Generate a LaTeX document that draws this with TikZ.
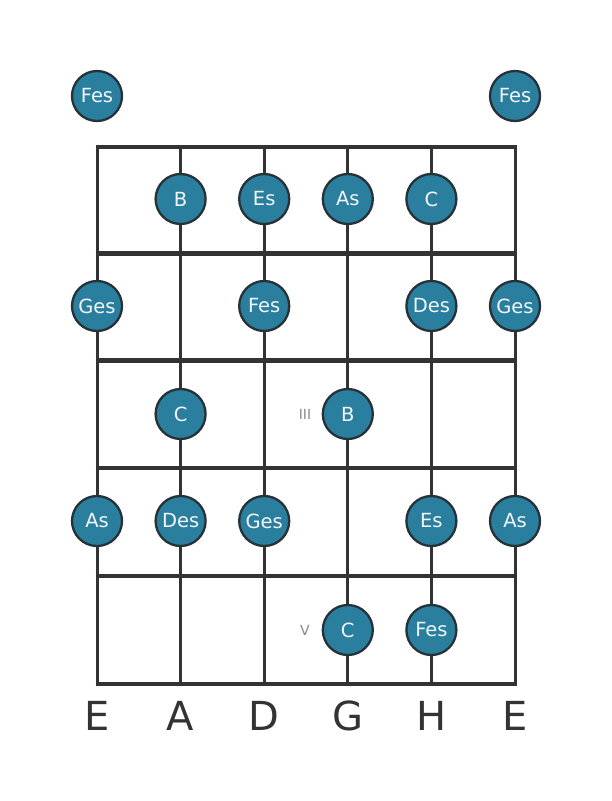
\documentclass[tikz,border=0pt]{standalone}
\usepackage{fontspec}
\setmainfont{DejaVu Sans}
\definecolor{notefill}{HTML}{2A7F9E}
\definecolor{noteedge}{HTML}{263238}
\definecolor{notetext}{HTML}{F2F6F8}
\definecolor{gridc}{HTML}{333333}
\definecolor{markc}{HTML}{8A8A8A}
\begin{document}
\begin{tikzpicture}[x=1pt,y=-1pt,
  note/.style={circle,fill=notefill,draw=noteedge,line width=2.3pt,minimum size=50pt,inner sep=0pt,text=notetext,font=\fontsize{19.5}{19.5}\selectfont},
  stringline/.style={draw=gridc,line width=3pt},
  fretline/.style={draw=gridc,line width=4.5pt},
  strname/.style={text=gridc,font=\fontsize{40}{40}\selectfont,inner sep=0pt},
  fretmark/.style={text=markc,font=\fontsize{14}{14}\selectfont,inner sep=0pt}]
\useasboundingbox (0,0) rectangle (611,801);
\fill[white] (0,0) rectangle (611,801);
% strings
\foreach \x in {97,180.6,264.2,347.8,431.4,515}
  \draw[stringline] (\x,147) -- (\x,684);
% frets
\foreach \y in {147,253.5,360.5,468,576,684}
  \draw[fretline] (95.5,\y) -- (516.5,\y);
% open
\node[note] (o1) at (97,96) {Fes};
\node[note] (o6) at (515,96) {Fes};
% fret 1
\node[note] (f1a) at (180.6,199) {B};
\node[note] (f1b) at (264.2,199) {Es};
\node[note] (f1c) at (347.8,199) {As};
\node[note] (f1d) at (431.4,199) {C};
% fret 2
\node[note] (f2a) at (97,306) {Ges};
\node[note] (f2b) at (264.2,306) {Fes};
\node[note] (f2c) at (431.4,306) {Des};
\node[note] (f2d) at (515,306) {Ges};
% fret 3
\node[note] (f3a) at (180.6,414) {C};
\node[note] (f3b) at (347.8,414) {B};
\node[fretmark] (m3) at (305,414) {III};
% fret 4
\node[note] (f4a) at (97,521) {As};
\node[note] (f4b) at (180.6,521) {Des};
\node[note] (f4c) at (264.2,521) {Ges};
\node[note] (f4d) at (431.4,521) {Es};
\node[note] (f4e) at (515,521) {As};
% fret 5
\node[note] (f5a) at (347.8,630) {C};
\node[note] (f5b) at (431.4,630) {Fes};
\node[fretmark] (m5) at (305,630) {V};
% string names
\node[strname] (s1) at (97,716) {E};
\node[strname] (s2) at (180.6,716) {A};
\node[strname] (s3) at (264.2,716) {D};
\node[strname] (s4) at (347.8,716) {G};
\node[strname] (s5) at (431.4,716) {H};
\node[strname] (s6) at (515,716) {E};
\end{tikzpicture}
\end{document}
